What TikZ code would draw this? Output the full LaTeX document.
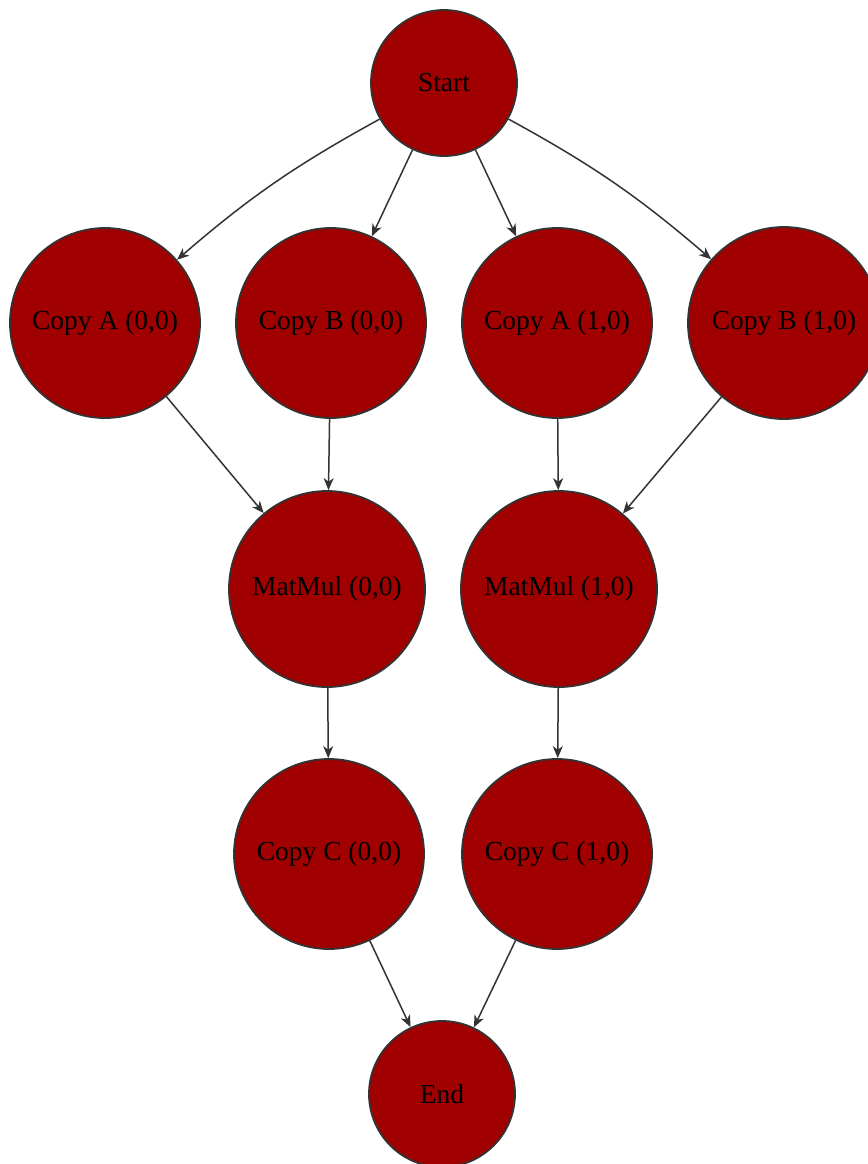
\documentclass[tikz,border=0pt]{standalone}
\usepackage{fontspec}
\setmainfont{Liberation Serif}
\usetikzlibrary{arrows.meta}
\definecolor{nodefill}{HTML}{A00000}
\definecolor{edgegray}{HTML}{333333}
\begin{document}
\begin{tikzpicture}[x=0.5pt,y=-0.5pt,
  task/.style={circle, draw=edgegray, fill=nodefill, line width=0.9pt,
    minimum size=#1, inner sep=0pt, text=black,
    font=\fontsize{13.75pt}{16pt}\selectfont},
  flow/.style={draw=edgegray, line width=0.75pt,
    -{Stealth[length=6pt,width=5pt,inset=1.8pt]}}]
  \useasboundingbox (0,0) rectangle (868,1164);
  \clip (0,0) rectangle (868,1164);

  % tasks
  \node[task=73pt] (start) at (444,83) {Start};
  \node[task=95pt] (cpa0) at (105,323) {Copy A (0,0)};
  \node[task=95pt] (cpb0) at (331,323) {Copy B (0,0)};
  \node[task=95pt] (cpa1) at (557,323) {Copy A (1,0)};
  \node[task=96pt] (cpb1) at (784,323) {Copy B (1,0)};
  \node[task=98pt] (mm0) at (327,589) {MatMul (0,0)};
  \node[task=98pt] (mm1) at (559,589) {MatMul (1,0)};
  \node[task=95pt] (cpc0) at (329,854) {Copy C (0,0)};
  \node[task=95pt] (cpc1) at (557,854) {Copy C (1,0)};
  \node[task=73pt] (end) at (442,1094) {End};

  % dependencies
  \draw[flow] (start) to[bend right=6] (cpa0);
  \draw[flow] (start) -- (cpb0);
  \draw[flow] (start) -- (cpa1);
  \draw[flow] (start) to[bend left=6] (cpb1);
  \draw[flow] (cpa0) -- (mm0);
  \draw[flow] (cpb0) -- (mm0);
  \draw[flow] (cpa1) -- (mm1);
  \draw[flow] (cpb1) -- (mm1);
  \draw[flow] (mm0) -- (cpc0);
  \draw[flow] (mm1) -- (cpc1);
  \draw[flow] (cpc0) -- (end);
  \draw[flow] (cpc1) -- (end);
\end{tikzpicture}
\end{document}
